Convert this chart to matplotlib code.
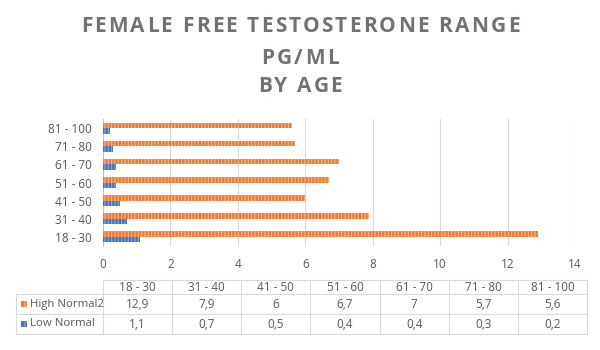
import matplotlib.pyplot as plt
from matplotlib.patches import Rectangle

# data
age_groups = ["18 - 30", "31 - 40", "41 - 50", "51 - 60", "61 - 70", "71 - 80", "81 - 100"]
high_normal = [12.9, 7.9, 6, 6.7, 7, 5.7, 5.6]
low_normal = [1.1, 0.7, 0.5, 0.4, 0.4, 0.3, 0.2]
high_labels = ["12,9", "7,9", "6", "6,7", "7", "5,7", "5,6"]
low_labels = ["1,1", "0,7", "0,5", "0,4", "0,4", "0,3", "0,2"]
series_names = ["High Normal2", "Low Normal"]
x_ticks = [0, 2, 4, 6, 8, 10, 12, 14]
title_lines = ["FEMALE FREE TESTOSTERONE RANGE", "PG/ML", "BY AGE"]

ORANGE = "#ed7d31"
BLUE = "#4472c4"
TEXT = "#595959"
GRID = "#d9d9d9"
W, H = 600, 350

plt.rcParams["font.family"] = ["Open Sans", "DejaVu Sans"]
plt.rcParams["hatch.linewidth"] = 0.7

fig = plt.figure(figsize=(6, 3.5), dpi=100)
renderer = fig.canvas.get_renderer()


def text_width(s, **kw):
    t = fig.text(0, 0, s, **kw)
    w = t.get_window_extent(renderer).width
    t.remove()
    return w


def spaced_text(xc, yc, s, spacing, **kw):
    """draws s centred on (xc, yc) pixels with extra letter spacing"""
    total = text_width(s, **kw) + spacing * (len(s) - 1)
    x0 = xc - total / 2
    for i, ch in enumerate(s):
        if ch == " ":
            continue
        off = text_width(s[:i] + "|", **kw) - text_width("|", **kw) if i else 0
        fig.text((x0 + off + i * spacing) / W, 1 - yc / H, ch,
                 ha="left", va="center", **kw)


title_kw = dict(fontsize=15, fontweight="bold", color="#767171")
for line, yc in zip(title_lines, [27, 58, 87]):
    spaced_text(300, yc, line, 2.2, **title_kw)

# bar chart area
ax = fig.add_axes([103 / W, 1 - 246 / H, (575 - 103) / W, (246 - 119) / H])
ypos = list(range(len(age_groups)))
bh = 0.3
ax.barh([y + bh / 2 for y in ypos], high_normal, height=bh, color=ORANGE,
        edgecolor="#f7b994", linewidth=0, hatch="|||||", zorder=3)
ax.barh([y - bh / 2 for y in ypos], low_normal, height=bh, color=BLUE,
        edgecolor="#95aee0", linewidth=0, hatch="|||||", zorder=3)
ax.set_xlim(0, 14)
ax.set_ylim(-0.5, len(age_groups) - 0.5)
ax.set_xticks(x_ticks)
ax.set_yticks(ypos)
ax.set_yticklabels(age_groups)
ax.tick_params(length=0, labelsize=8.5, colors=TEXT)
ax.tick_params(axis="x", pad=9)
ax.tick_params(axis="y", pad=8)
ax.grid(axis="x", color=GRID, linewidth=0.8, zorder=0)
for s in ["top", "right", "bottom"]:
    ax.spines[s].set_visible(False)
ax.spines["left"].set_color("#bfbfbf")

# data table below
tab = fig.add_axes([0, 0, 1, 1])
tab.set_xlim(0, W)
tab.set_ylim(H, 0)
tab.axis("off")
col_left, col_right = 103, 587
label_left = 16
row_tops = [280, 294, 314, 334]
cw = (col_right - col_left) / len(age_groups)
lk = dict(color=GRID, linewidth=0.8)
tab.plot([col_left, col_right], [row_tops[0]] * 2, **lk)
for yy in row_tops[1:]:
    tab.plot([label_left, col_right], [yy] * 2, **lk)
tab.plot([label_left] * 2, [row_tops[1], row_tops[3]], **lk)
for i in range(len(age_groups) + 1):
    tab.plot([col_left + i * cw] * 2, [row_tops[0], row_tops[3]], **lk)

for i, g in enumerate(age_groups):
    xc = col_left + (i + 0.5) * cw
    tab.text(xc, (row_tops[0] + row_tops[1]) / 2 + 0.5, g, ha="center", va="center",
             fontsize=8.5, color=TEXT)
    tab.text(xc, (row_tops[1] + row_tops[2]) / 2, high_labels[i], ha="center",
             va="center", fontsize=8.5, color=TEXT)
    tab.text(xc, (row_tops[2] + row_tops[3]) / 2, low_labels[i], ha="center",
             va="center", fontsize=8.5, color=TEXT)

for r, (name, c, ec) in enumerate(zip(series_names, [ORANGE, BLUE], ["#f7b994", "#95aee0"])):
    yc = (row_tops[r + 1] + row_tops[r + 2]) / 2
    tab.add_patch(Rectangle((21, yc - 3), 6, 6, facecolor=c, edgecolor=ec,
                            linewidth=0, hatch="|||"))
    tab.text(30, yc, name, ha="left", va="center", fontsize=8.2, color=TEXT)

fig.savefig("out.png", dpi=100)
